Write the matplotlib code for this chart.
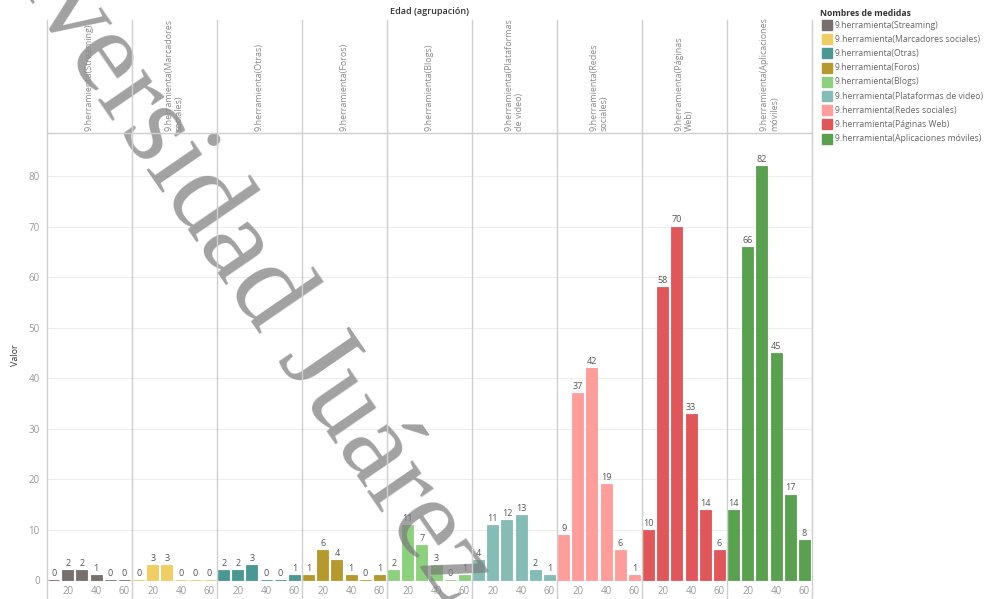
import matplotlib.pyplot as plt
from matplotlib.patches import Rectangle
from matplotlib.lines import Line2D

plt.rcParams['font.family'] = ['Open Sans', 'DejaVu Sans']

# datos
edades = [10, 20, 30, 40, 50, 60]
streaming = [0, 2, 2, 1, 0, 0]
marcadores = [0, 3, 3, 0, 0, 0]
otras = [2, 2, 3, 0, 0, 1]
foros = [1, 6, 4, 1, 0, 1]
blogs = [2, 11, 7, 3, 0, 1]
plataformas = [4, 11, 12, 13, 2, 1]
redes = [9, 37, 42, 19, 6, 1]
paginas = [10, 58, 70, 33, 14, 6]
aplicaciones = [14, 66, 82, 45, 17, 8]

medidas = ['9.herramienta(Streaming)', '9.herramienta(Marcadores sociales)',
           '9.herramienta(Otras)', '9.herramienta(Foros)', '9.herramienta(Blogs)',
           '9.herramienta(Plataformas de video)', '9.herramienta(Redes sociales)',
           '9.herramienta(Páginas Web)', '9.herramienta(Aplicaciones móviles)']
encabezados = ['9.herramienta(Streaming)', '9.herramienta(Marcadores\nsociales)',
               '9.herramienta(Otras)', '9.herramienta(Foros)', '9.herramienta(Blogs)',
               '9.herramienta(Plataformas\nde video)', '9.herramienta(Redes\nsociales)',
               '9.herramienta(Páginas\nWeb)', '9.herramienta(Aplicaciones\nmóviles)']
colores = ['#79706E', '#F1CE63', '#499894', '#B6992D', '#8CD17D',
           '#86BCB6', '#FF9D9A', '#E15759', '#59A14F']
series = [streaming, marcadores, otras, foros, blogs, plataformas, redes, paginas, aplicaciones]

W, H = 984, 599
fig = plt.figure(figsize=(W / 100, H / 100), dpi=100)


def fx(x):
    return x / W


def fy(y):
    return 1 - y / H


left, right, top, bottom = 46.7, 811.7, 133, 582
pw = (right - left) / len(series)

for i, (vals, col, head) in enumerate(zip(series, colores, encabezados)):
    x0 = left + i * pw
    ax = fig.add_axes([fx(x0), fy(bottom), pw / W, (bottom - top) / H])
    ax.bar(edades, vals, width=7.8, color=col, edgecolor=col, linewidth=0.6, zorder=2)
    for e, v in zip(edades, vals):
        ax.annotate(str(v), (e, v), xytext=(0, 1.5), textcoords='offset points',
                    ha='center', va='bottom', fontsize=6.5, color='#555555')
    ax.set_xlim(5.1, 65.2)
    ax.set_ylim(-0.3, 88.5)
    ax.set_yticks(range(0, 90, 10))
    ax.set_xticks([20, 40, 60])
    ax.grid(axis='y', color='#eeeeee', linewidth=0.8)
    ax.set_axisbelow(True)
    for s in ax.spines.values():
        s.set_visible(False)
    ax.tick_params(length=0, colors='#9a9a9a', labelsize=7, pad=3)
    ax.tick_params(axis='y', pad=5)
    if i > 0:
        ax.tick_params(labelleft=False)
    fig.text(fx(x0 + pw / 2), fy(131), head, rotation=90, ha='center', va='bottom',
             multialignment='left', fontsize=6.5, color='#8a8a8a')

# separadores de paneles y encabezado
for k in range(len(series) + 1):
    fig.add_artist(Line2D([fx(left + k * pw)] * 2, [fy(20), 0], color='#cfcfcf', lw=1, zorder=3))
fig.add_artist(Line2D([fx(left), fx(right)], [fy(133)] * 2, color='#cfcfcf', lw=1, zorder=3))

fig.text(fx(429), fy(12), 'Edad (agrupación)', ha='center', va='center',
         fontsize=6.5, color='#333333', fontweight='semibold')
fig.text(fx(15), fy(355), 'Valor', rotation=90, ha='center', va='center',
         fontsize=6.5, color='#333333')

# leyenda
fig.text(fx(820), fy(13), 'Nombres de medidas', ha='left', va='center',
         fontsize=6.2, color='#333333', fontweight='bold')
for j, (m, col) in enumerate(zip(medidas, colores)):
    y = 25 + j * 14.2
    fig.add_artist(Rectangle((fx(822), fy(y + 5)), 10 / W, 10 / H,
                             transform=fig.transFigure, color=col))
    fig.text(fx(835), fy(y), m, ha='left', va='center', fontsize=6.2, color='#666666')

# marca de agua
fig.text(fx(-67), fy(-141), 'Universidad Juárez', rotation=-55.5, rotation_mode='anchor',
         ha='left', va='baseline', fontsize=85, family='Liberation Serif',
         color='#7a7a7a', alpha=0.7, zorder=2)

fig.savefig('out.png', dpi=100)
